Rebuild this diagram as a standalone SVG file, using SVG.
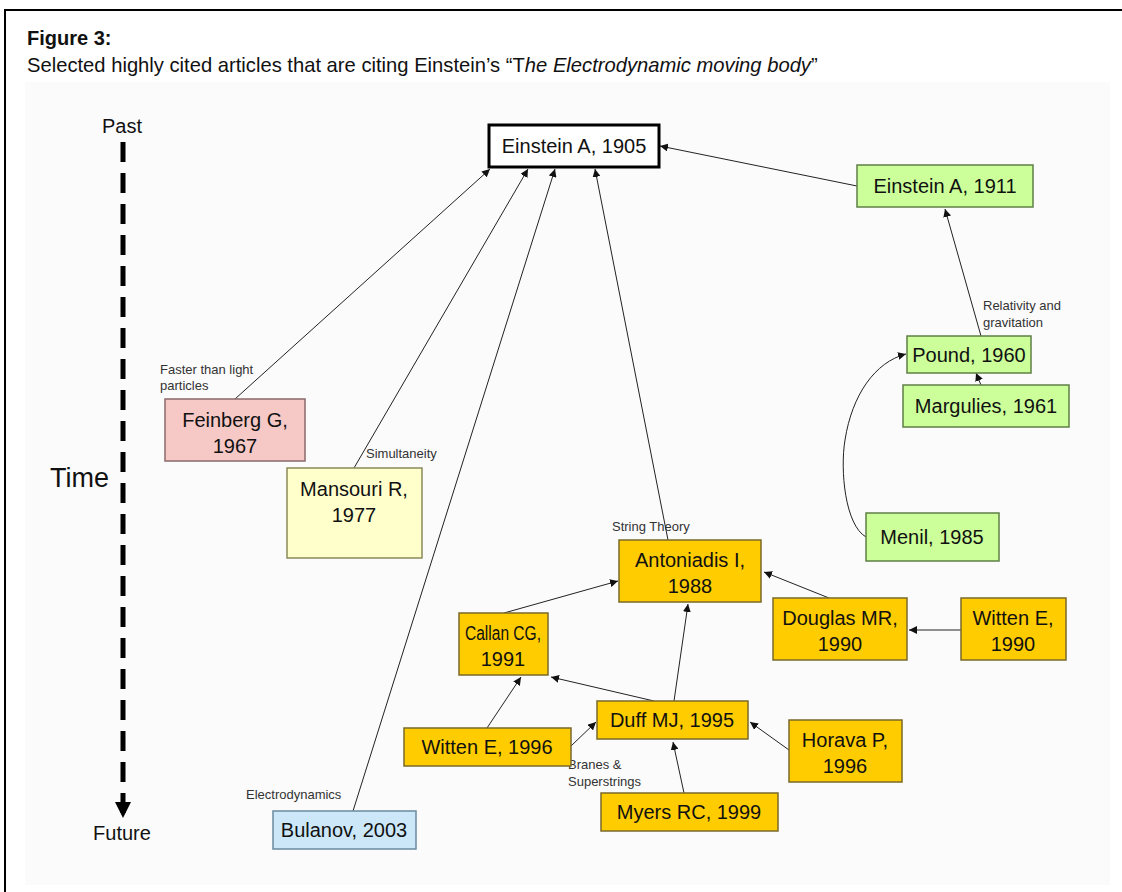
<svg xmlns="http://www.w3.org/2000/svg" width="1122" height="892" viewBox="0 0 1122 892">
<defs>
<marker id="ah" viewBox="0 0 10 10" refX="10" refY="5" markerWidth="8" markerHeight="8" orient="auto" markerUnits="userSpaceOnUse"><path d="M0,0 L10,5 L0,10 z" fill="#111"/></marker>
<marker id="ahbig" viewBox="0 0 10 10" refX="10" refY="5" markerWidth="3.2" markerHeight="3.2" orient="auto"><path d="M0,0 L10,5 L0,10 z" fill="#000"/></marker>
</defs>
<style>
text{font-family:"Liberation Sans",Arial,sans-serif;fill:#111}
.n{font-size:20px;text-anchor:middle}
.lb{font-size:13px;fill:#333}
.g rect{fill:#ccff99;stroke:#5f7f45;stroke-width:1.5}
.o rect{fill:#ffcc00;stroke:#7a6a2a;stroke-width:1.5}
.c line,.c path{stroke:#222;stroke-width:1;fill:none;marker-end:url(#ah)}
</style>
<rect x="0" y="0" width="1122" height="892" fill="#fff"/>
<rect x="25" y="82" width="1085" height="803" fill="#fbfbfb"/>
<path d="M5,892 V10 H1122" fill="none" stroke="#000" stroke-width="2"/>
<text x="27" y="45" style="font-size:20px;font-weight:bold">Figure 3:</text>
<text x="27" y="72" style="font-size:20.2px">Selected highly cited articles that are citing Einstein’s “T<tspan font-style="italic">he Electrodynamic moving body</tspan>”</text>

<g id="timeline">
<text x="122" y="133" class="n" style="font-size:20px">Past</text>
<line x1="123" y1="142" x2="123" y2="818" stroke="#000" stroke-width="5" stroke-dasharray="20,11" marker-end="url(#ahbig)"/>
<text x="50" y="487" style="font-size:27px">Time</text>
<text x="122" y="840" class="n" style="font-size:20px">Future</text>
</g>

<g id="connectors" class="c">
<line x1="235" y1="399" x2="490" y2="169"/>
<line x1="354" y1="468" x2="528" y2="169"/>
<line x1="353" y1="811" x2="555" y2="169"/>
<line x1="668" y1="540" x2="595" y2="169"/>
<line x1="857" y1="186" x2="660" y2="146"/>
<line x1="981" y1="336" x2="945" y2="209"/>
<line x1="981" y1="385" x2="976" y2="373"/>
<path d="M866,537 C845,525 840,470 845,440 C852,395 875,362 906,354"/>
<line x1="504" y1="613" x2="618" y2="581"/>
<line x1="829" y1="598" x2="764" y2="572"/>
<line x1="961" y1="630" x2="909" y2="630"/>
<line x1="674" y1="701" x2="688" y2="604"/>
<line x1="654" y1="701" x2="551" y2="677"/>
<line x1="487" y1="728" x2="521" y2="677"/>
<line x1="571" y1="746" x2="596" y2="722"/>
<line x1="789" y1="750" x2="750" y2="722"/>
<line x1="684" y1="793" x2="673" y2="742"/>
</g>

<g id="labels">
<text x="160" y="374" class="lb">Faster than light</text>
<text x="160" y="390" class="lb">particles</text>
<text x="366" y="458" class="lb">Simultaneity</text>
<text x="612" y="531" class="lb">String Theory</text>
<text x="983" y="310" class="lb">Relativity and</text>
<text x="983" y="327" class="lb">gravitation</text>
<text x="568" y="769" class="lb">Branes &amp;</text>
<text x="568" y="786" class="lb">Superstrings</text>
<text x="246" y="799" class="lb">Electrodynamics</text>
</g>

<g id="einstein1905"><rect x="489" y="125" width="170" height="42" fill="#fff" stroke="#000" stroke-width="3"/><text x="574" y="153" class="n">Einstein A, 1905</text></g>
<g id="einstein1911" class="g"><rect x="857" y="165" width="176" height="42"/><text x="945" y="193" class="n">Einstein A, 1911</text></g>
<g id="pound1960" class="g"><rect x="907" y="336" width="124" height="37"/><text x="969" y="362" class="n">Pound, 1960</text></g>
<g id="margulies1961" class="g"><rect x="903" y="385" width="166" height="42"/><text x="986" y="413" class="n">Margulies, 1961</text></g>
<g id="menil1985" class="g"><rect x="866" y="513" width="133" height="48"/><text x="932" y="544" class="n">Menil, 1985</text></g>
<g id="feinberg1967"><rect x="165" y="399" width="140" height="62" fill="#f6c8c6" stroke="#8a6a6a" stroke-width="1.5"/><text x="235" y="427" class="n">Feinberg G,</text><text x="235" y="453" class="n">1967</text></g>
<g id="mansouri1977"><rect x="287" y="468" width="135" height="90" fill="#ffffcc" stroke="#8a8a5a" stroke-width="1.5"/><text x="354" y="496" class="n">Mansouri R,</text><text x="354" y="522" class="n">1977</text></g>
<g id="antoniadis1988" class="o"><rect x="619" y="540" width="142" height="62"/><text x="690" y="567" class="n">Antoniadis I,</text><text x="690" y="593" class="n">1988</text></g>
<g id="callan1991" class="o"><rect x="459" y="613" width="89" height="62"/><text x="503" y="640" class="n" textLength="76" lengthAdjust="spacingAndGlyphs">Callan CG,</text><text x="503" y="666" class="n">1991</text></g>
<g id="douglas1990" class="o"><rect x="773" y="598" width="134" height="62"/><text x="840" y="625" class="n">Douglas MR,</text><text x="840" y="651" class="n">1990</text></g>
<g id="witten1990" class="o"><rect x="961" y="598" width="105" height="62"/><text x="1013" y="625" class="n">Witten E,</text><text x="1013" y="651" class="n">1990</text></g>
<g id="duff1995" class="o"><rect x="597" y="701" width="151" height="38"/><text x="672" y="727" class="n">Duff MJ, 1995</text></g>
<g id="witten1996" class="o"><rect x="404" y="728" width="167" height="38"/><text x="487" y="754" class="n">Witten E, 1996</text></g>
<g id="horava1996" class="o"><rect x="789" y="720" width="113" height="62"/><text x="845" y="747" class="n">Horava P,</text><text x="845" y="773" class="n">1996</text></g>
<g id="myers1999" class="o"><rect x="601" y="793" width="177" height="38"/><text x="689" y="819" class="n">Myers RC, 1999</text></g>
<g id="bulanov2003"><rect x="273" y="811" width="143" height="38" fill="#cce8f8" stroke="#6a8aa0" stroke-width="1.5"/><text x="344" y="837" class="n">Bulanov, 2003</text></g>
</svg>
